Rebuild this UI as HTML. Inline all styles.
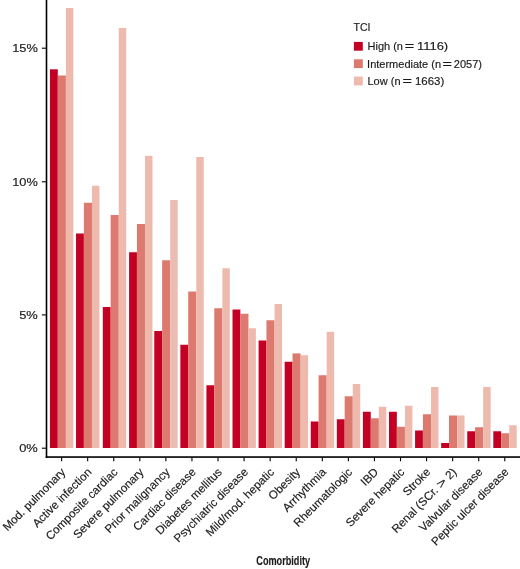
<!DOCTYPE html><html><head><meta charset="utf-8"><style>html,body{margin:0;padding:0;background:#fff}svg{display:block;will-change:transform}text{font-family:"Liberation Sans",sans-serif;fill:#1a1a1a;stroke:#1a1a1a;stroke-width:0.16px}</style></head><body>
<svg width="520" height="569" viewBox="0 0 520 569">
<rect width="520" height="569" fill="#fff"/>
<rect x="49.95" y="69.30" width="7.85" height="378.70" fill="#C30024"/>
<rect x="57.80" y="75.50" width="8.10" height="372.50" fill="#DD7A6F"/>
<rect x="65.90" y="8.00" width="7.45" height="440.00" fill="#EFBAAE"/>
<rect x="76.03" y="233.50" width="7.85" height="214.50" fill="#C30024"/>
<rect x="83.88" y="202.75" width="8.10" height="245.25" fill="#DD7A6F"/>
<rect x="91.98" y="185.75" width="7.45" height="262.25" fill="#EFBAAE"/>
<rect x="102.81" y="307.00" width="7.85" height="141.00" fill="#C30024"/>
<rect x="110.66" y="215.00" width="8.10" height="233.00" fill="#DD7A6F"/>
<rect x="118.76" y="28.00" width="7.45" height="420.00" fill="#EFBAAE"/>
<rect x="129.09" y="252.25" width="7.85" height="195.75" fill="#C30024"/>
<rect x="136.94" y="224.00" width="8.10" height="224.00" fill="#DD7A6F"/>
<rect x="145.04" y="155.75" width="7.45" height="292.25" fill="#EFBAAE"/>
<rect x="154.27" y="331.00" width="7.85" height="117.00" fill="#C30024"/>
<rect x="162.12" y="260.25" width="8.10" height="187.75" fill="#DD7A6F"/>
<rect x="170.22" y="200.00" width="7.45" height="248.00" fill="#EBBCB1"/>
<rect x="180.35" y="344.75" width="7.85" height="103.25" fill="#C30024"/>
<rect x="188.20" y="291.50" width="8.10" height="156.50" fill="#DD7A6F"/>
<rect x="196.30" y="157.00" width="7.45" height="291.00" fill="#EFBAAE"/>
<rect x="206.43" y="385.25" width="7.85" height="62.75" fill="#C30024"/>
<rect x="214.28" y="308.25" width="8.10" height="139.75" fill="#DD7A6F"/>
<rect x="222.38" y="268.25" width="7.45" height="179.75" fill="#EFBAAE"/>
<rect x="232.51" y="309.50" width="7.85" height="138.50" fill="#C30024"/>
<rect x="240.36" y="313.75" width="8.10" height="134.25" fill="#DD7A6F"/>
<rect x="248.46" y="328.25" width="7.45" height="119.75" fill="#EFBAAE"/>
<rect x="258.59" y="340.50" width="7.85" height="107.50" fill="#C30024"/>
<rect x="266.44" y="320.25" width="8.10" height="127.75" fill="#DD7A6F"/>
<rect x="274.54" y="304.00" width="7.45" height="144.00" fill="#EFBAAE"/>
<rect x="284.67" y="361.75" width="7.85" height="86.25" fill="#C30024"/>
<rect x="292.52" y="353.40" width="8.10" height="94.60" fill="#DD7A6F"/>
<rect x="300.62" y="355.25" width="7.45" height="92.75" fill="#EFBAAE"/>
<rect x="310.75" y="421.50" width="7.85" height="26.50" fill="#C30024"/>
<rect x="318.60" y="375.25" width="8.10" height="72.75" fill="#DD7A6F"/>
<rect x="326.70" y="331.75" width="7.45" height="116.25" fill="#EFBAAE"/>
<rect x="336.83" y="419.25" width="7.85" height="28.75" fill="#C30024"/>
<rect x="344.68" y="396.25" width="8.10" height="51.75" fill="#DD7A6F"/>
<rect x="352.78" y="384.00" width="7.45" height="64.00" fill="#EFBAAE"/>
<rect x="362.91" y="411.75" width="7.85" height="36.25" fill="#C30024"/>
<rect x="370.76" y="418.25" width="8.10" height="29.75" fill="#DD7A6F"/>
<rect x="378.86" y="406.75" width="7.45" height="41.25" fill="#EFBAAE"/>
<rect x="388.99" y="411.75" width="7.85" height="36.25" fill="#C30024"/>
<rect x="396.84" y="426.75" width="8.10" height="21.25" fill="#DD7A6F"/>
<rect x="404.94" y="405.75" width="7.45" height="42.25" fill="#EFBAAE"/>
<rect x="415.07" y="430.50" width="7.85" height="17.50" fill="#C30024"/>
<rect x="422.92" y="414.25" width="8.10" height="33.75" fill="#DD7A6F"/>
<rect x="431.02" y="387.00" width="7.45" height="61.00" fill="#EFBAAE"/>
<rect x="441.15" y="443.00" width="7.85" height="5.00" fill="#C30024"/>
<rect x="449.00" y="415.50" width="8.10" height="32.50" fill="#DD7A6F"/>
<rect x="457.10" y="415.50" width="7.45" height="32.50" fill="#EFBAAE"/>
<rect x="467.23" y="431.25" width="7.85" height="16.75" fill="#C30024"/>
<rect x="475.08" y="427.25" width="8.10" height="20.75" fill="#DD7A6F"/>
<rect x="483.18" y="387.00" width="7.45" height="61.00" fill="#EFBAAE"/>
<rect x="493.31" y="431.25" width="7.85" height="16.75" fill="#C30024"/>
<rect x="501.16" y="433.25" width="8.10" height="14.75" fill="#DD7A6F"/>
<rect x="509.26" y="425.25" width="7.45" height="22.75" fill="#EFBAAE"/>
<rect x="45.7" y="0" width="1.6" height="457.85" fill="#000"/>
<rect x="45.7" y="456.25" width="474.3" height="1.6" fill="#000"/>
<rect x="41.9" y="447.65" width="4" height="1.1" fill="#000"/>
<text x="37.8" y="452.00" font-size="11" text-anchor="end" textLength="18.6" lengthAdjust="spacingAndGlyphs">0%</text>
<rect x="41.9" y="314.35" width="4" height="1.1" fill="#000"/>
<text x="37.8" y="318.70" font-size="11" text-anchor="end" textLength="18.6" lengthAdjust="spacingAndGlyphs">5%</text>
<rect x="41.9" y="181.25" width="4" height="1.1" fill="#000"/>
<text x="37.8" y="185.60" font-size="11" text-anchor="end" textLength="25.6" lengthAdjust="spacingAndGlyphs">10%</text>
<rect x="41.9" y="47.65" width="4" height="1.1" fill="#000"/>
<text x="37.8" y="52.00" font-size="11" text-anchor="end" textLength="25.6" lengthAdjust="spacingAndGlyphs">15%</text>
<rect x="61.05" y="457.7" width="1.1" height="3.6" fill="#000"/>
<text transform="translate(66.20,472.80) rotate(-45)" font-size="11.6" text-anchor="end">Mod. pulmonary</text>
<rect x="87.12" y="457.7" width="1.1" height="3.6" fill="#000"/>
<text transform="translate(92.27,472.80) rotate(-45)" font-size="11.6" text-anchor="end">Active infection</text>
<rect x="113.19" y="457.7" width="1.1" height="3.6" fill="#000"/>
<text transform="translate(118.34,472.80) rotate(-45)" font-size="11.6" text-anchor="end">Composite cardiac</text>
<rect x="139.26" y="457.7" width="1.1" height="3.6" fill="#000"/>
<text transform="translate(144.41,472.80) rotate(-45)" font-size="11.6" text-anchor="end">Severe pulmonary</text>
<rect x="165.33" y="457.7" width="1.1" height="3.6" fill="#000"/>
<text transform="translate(170.48,472.80) rotate(-45)" font-size="11.6" text-anchor="end">Prior malignancy</text>
<rect x="191.40" y="457.7" width="1.1" height="3.6" fill="#000"/>
<text transform="translate(196.55,472.80) rotate(-45)" font-size="11.6" text-anchor="end">Cardiac disease</text>
<rect x="217.47" y="457.7" width="1.1" height="3.6" fill="#000"/>
<text transform="translate(222.62,472.80) rotate(-45)" font-size="11.6" text-anchor="end">Diabetes mellitus</text>
<rect x="243.54" y="457.7" width="1.1" height="3.6" fill="#000"/>
<text transform="translate(248.69,472.80) rotate(-45)" font-size="11.6" text-anchor="end">Psychiatric disease</text>
<rect x="269.61" y="457.7" width="1.1" height="3.6" fill="#000"/>
<text transform="translate(274.76,472.80) rotate(-45)" font-size="11.6" text-anchor="end">Mild/mod. hepatic</text>
<rect x="295.68" y="457.7" width="1.1" height="3.6" fill="#000"/>
<text transform="translate(300.83,472.80) rotate(-45)" font-size="11.6" text-anchor="end">Obesity</text>
<rect x="321.75" y="457.7" width="1.1" height="3.6" fill="#000"/>
<text transform="translate(326.90,472.80) rotate(-45)" font-size="11.6" text-anchor="end">Arrhythmia</text>
<rect x="347.82" y="457.7" width="1.1" height="3.6" fill="#000"/>
<text transform="translate(352.97,472.80) rotate(-45)" font-size="11.6" text-anchor="end">Rheumatologic</text>
<rect x="373.89" y="457.7" width="1.1" height="3.6" fill="#000"/>
<text transform="translate(379.04,472.80) rotate(-45)" font-size="11.6" text-anchor="end">IBD</text>
<rect x="399.96" y="457.7" width="1.1" height="3.6" fill="#000"/>
<text transform="translate(405.11,472.80) rotate(-45)" font-size="11.6" text-anchor="end">Severe hepatic</text>
<rect x="426.03" y="457.7" width="1.1" height="3.6" fill="#000"/>
<text transform="translate(431.18,472.80) rotate(-45)" font-size="11.6" text-anchor="end">Stroke</text>
<rect x="452.10" y="457.7" width="1.1" height="3.6" fill="#000"/>
<text transform="translate(457.25,472.80) rotate(-45)" font-size="11.6" text-anchor="end">Renal (SCr. <tspan textLength="9.4" lengthAdjust="spacingAndGlyphs">&gt;</tspan> 2)</text>
<rect x="478.17" y="457.7" width="1.1" height="3.6" fill="#000"/>
<text transform="translate(483.32,472.80) rotate(-45)" font-size="11.6" text-anchor="end">Valvular disease</text>
<rect x="504.24" y="457.7" width="1.1" height="3.6" fill="#000"/>
<text transform="translate(509.39,472.80) rotate(-45)" font-size="11.6" text-anchor="end">Peptic ulcer disease</text>
<text x="353.5" y="31.3" font-size="11" textLength="17.0" lengthAdjust="spacingAndGlyphs">TCI</text>
<rect x="353.9" y="41.9" width="8.9" height="8.8" fill="#C30024"/>
<text x="367.50" y="50.0" font-size="11">High (n</text>
<text x="404.85" y="50.0" font-size="11" textLength="9.45" lengthAdjust="spacingAndGlyphs">=</text>
<text x="416.90" y="50.0" font-size="11" textLength="31.3" lengthAdjust="spacingAndGlyphs">1116)</text>
<rect x="353.9" y="59.3" width="8.9" height="8.8" fill="#DD7A6F"/>
<text x="367.10" y="67.5" font-size="11">Intermediate (n</text>
<text x="442.60" y="67.5" font-size="11" textLength="9.45" lengthAdjust="spacingAndGlyphs">=</text>
<text x="453.80" y="67.5" font-size="11">2057)</text>
<rect x="353.9" y="76.6" width="8.9" height="8.8" fill="#EFBAAE"/>
<text x="367.50" y="85.0" font-size="11">Low (n</text>
<text x="402.60" y="85.0" font-size="11" textLength="9.45" lengthAdjust="spacingAndGlyphs">=</text>
<text x="415.00" y="85.0" font-size="11" textLength="29.2" lengthAdjust="spacingAndGlyphs">1663)</text>
<text transform="translate(283.2,564.8) scale(0.672,1)" font-size="13.6" font-weight="bold" text-anchor="middle" stroke="none">Comorbidity</text>
</svg></body></html>
